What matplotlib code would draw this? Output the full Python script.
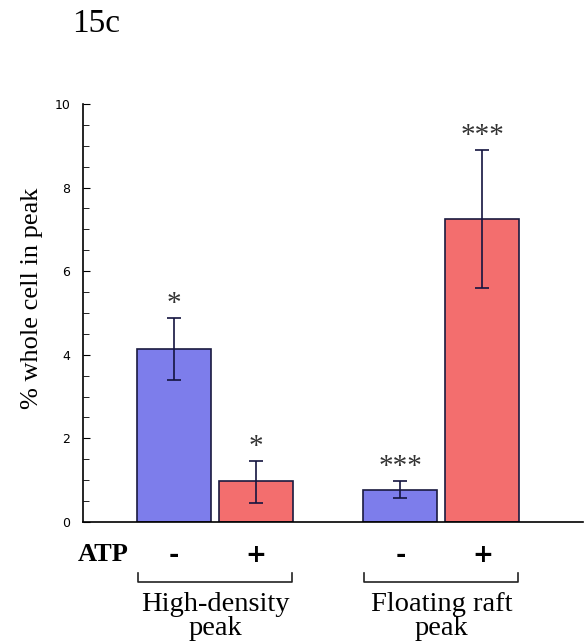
import matplotlib.pyplot as plt
from matplotlib.ticker import MultipleLocator

# data
groups = ['High-density\npeak', 'Floating raft\npeak']
atp_labels = ['-', '+', '-', '+']
values = [4.13, 0.97, 0.77, 7.25]
err_low = [3.40, 0.45, 0.57, 5.60]
err_high = [4.88, 1.47, 0.98, 8.90]
stars = ['*', '*', '***', '***']
colors = ['#7d7deb', '#f36e6e', '#7d7deb', '#f36e6e']

group_centers = [1.32, 3.585]
offset = 0.41
width = 0.74
xpos = []
for c in group_centers:
    xpos += [c - offset, c + offset]

fig = plt.figure(figsize=(5.86, 6.42), dpi=100)
ax = fig.add_axes([0.1416, 0.187, 0.853, 0.651])

ax.bar(xpos, values, width=width, color=colors, edgecolor='#1a1a40', linewidth=1.2, zorder=2)
yerr = [[v - lo for v, lo in zip(values, err_low)], [hi - v for v, hi in zip(values, err_high)]]
ax.errorbar(xpos, values, yerr=yerr, fmt='none', ecolor='#141440', elinewidth=1.2,
            capsize=5, capthick=1.2, zorder=3)

for x, hi, s in zip(xpos, err_high, stars):
    ax.text(x, hi + 0.02, s, ha='center', va='bottom', fontsize=21,
            family='Liberation Serif', color='#333333')

ax.set_xlim(0, 5)
ax.set_ylim(0, 10)
ax.yaxis.set_major_locator(MultipleLocator(2))
ax.yaxis.set_minor_locator(MultipleLocator(0.5))
ax.tick_params(axis='y', which='both', direction='in', labelsize=9, pad=9)
ax.tick_params(axis='y', which='major', length=5)
ax.tick_params(axis='y', which='minor', length=4)
ax.set_xticks([])
for side in ['top', 'right']:
    ax.spines[side].set_visible(False)
ax.spines['left'].set_linewidth(1.2)
ax.spines['bottom'].set_linewidth(1.2)
for lab in ax.get_yticklabels():
    lab.set_family('Liberation Sans Narrow')

ax.set_ylabel('% whole cell in peak', family='Liberation Serif', fontsize=19)
ax.yaxis.set_label_coords(-0.08, 0.536)

# labels below the axis
tr = ax.get_xaxis_transform()
ax.text(0.2, -0.079, 'ATP', transform=tr, ha='center', va='center',
        family='Liberation Serif', fontweight='bold', fontsize=19, clip_on=False)
for x, s in zip(xpos, atp_labels):
    ax.text(x, -0.079, s, transform=tr, ha='center', va='center',
            fontweight='bold', fontsize=18, clip_on=False)

for c, g in zip(group_centers, groups):
    x0, x1 = c - 0.77, c + 0.77
    ax.plot([x0, x0, x1, x1], [-0.122, -0.143, -0.143, -0.122], transform=tr,
            color='#222222', linewidth=1.2, clip_on=False)
    ax.text(c, -0.168, g, transform=tr, ha='center', va='top', linespacing=0.92,
            family='Liberation Serif', fontsize=20.5, clip_on=False)

fig.text(0.123, 0.963, '15c', ha='left', va='center', family='Liberation Serif', fontsize=24)

fig.savefig('out.png', dpi=100)
plt.close(fig)
